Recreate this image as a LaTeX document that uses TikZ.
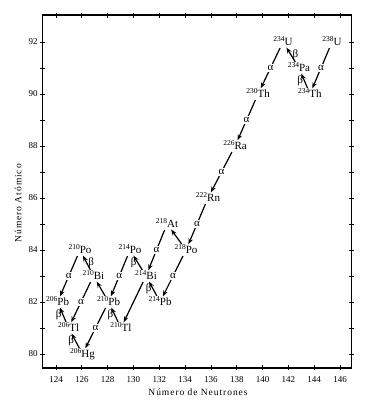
\documentclass[tikz,border=0pt]{standalone}
\usepackage{fontspec}
\setmainfont{Liberation Serif}
\usetikzlibrary{arrows.meta}
\newcommand{\iso}[2]{\raisebox{0.8ex}{\fontsize{7.5}{7.5}\selectfont #1}#2}
\begin{document}
\begin{tikzpicture}[x=12.91pt,y=26pt,
  nuc/.style={inner sep=1.2pt, text height=7.5pt, text depth=0pt, font=\fontsize{11}{11}\selectfont},
  decay/.style={line width=1.2pt, -{Stealth[length=6pt,width=4.5pt]}, shorten <=1pt, shorten >=0.5pt},
  alab/.style={fill=white, inner sep=1.3pt, font=\fontsize{11}{11}\selectfont},
  blab/.style={inner sep=1pt, font=\fontsize{11}{11}\selectfont},
  tickmark/.style={line width=0.9pt},
  ticklab/.style={font=\fontsize{9}{9}\selectfont, inner sep=0pt},
  axtitle/.style={font=\fontsize{9.5}{9.5}\selectfont\addfontfeature{LetterSpace=10}, inner sep=0pt}]
\useasboundingbox (119.662,78.077) rectangle (148.477,93.615);
\draw[line width=1.2pt] (122.97,79.46) rectangle (146.9,93.04);
% ticks
\foreach \n in {124,126,...,146} {
  \draw[tickmark] ([yshift=-2pt]\n,79.46) -- ([yshift=3pt]\n,79.46);
  \draw[tickmark] ([yshift=-3pt]\n,93.04) -- ([yshift=2pt]\n,93.04);
  \node[ticklab] (xl\n) at (\n,79.0) {\n};
}
\foreach \z in {80,...,92} {
  \draw[tickmark] ([xshift=-2.5pt]122.97,\z) -- ([xshift=2.5pt]122.97,\z);
  \draw[tickmark] ([xshift=-2.5pt]146.9,\z) -- ([xshift=2.5pt]146.9,\z);
}
\foreach \z in {80,82,...,92} {
  \node[ticklab, anchor=east] (yl\z) at ([xshift=-5pt]122.97,\z) {\z};
}
\node[axtitle] (xt) at (135,78.54) {Número de Neutrones};
\node[axtitle, rotate=90] (yt) at (121.06,85.8) {Número Atómico};
% nuclides
\node[nuc] (U238) at (145.38,92) {\iso{238}{U}};
\node[nuc] (Th234) at (143.67,90) {\iso{234}{Th}};
\node[nuc] (Pa234) at (142.82,91) {\iso{234}{Pa}};
\node[nuc] (U234) at (141.58,92) {\iso{234}{U}};
\node[nuc] (Th230) at (139.65,90) {\iso{230}{Th}};
\node[nuc] (Ra226) at (137.87,88) {\iso{226}{Ra}};
\node[nuc] (Rn222) at (135.77,86) {\iso{222}{Rn}};
\node[nuc] (At218) at (132.60,85) {\iso{218}{At}};
\node[nuc] (Po218) at (134.07,84) {\iso{218}{Po}};
\node[nuc] (Po214) at (129.73,84) {\iso{214}{Po}};
\node[nuc] (Bi214) at (130.97,83) {\iso{214}{Bi}};
\node[nuc] (Pb214) at (132.06,82) {\iso{214}{Pb}};
\node[nuc] (Tl210) at (129.03,81) {\iso{210}{Tl}};
\node[nuc] (Pb210) at (128.07,82) {\iso{210}{Pb}};
\node[nuc] (Bi210) at (126.90,83) {\iso{210}{Bi}};
\node[nuc] (Po210) at (125.86,84) {\iso{210}{Po}};
\node[nuc] (Pb206) at (124.12,82) {\iso{206}{Pb}};
\node[nuc] (Tl206) at (124.97,81) {\iso{206}{Tl}};
\node[nuc] (Hg206) at (126.05,80) {\iso{206}{Hg}};
% alpha decays
\draw[decay] (U238) -- node[alab] (a1) {α} (Th234);
\draw[decay] (U234) -- node[alab] (a2) {α} (Th230);
\draw[decay] (Th230) -- node[alab] (a3) {α} (Ra226);
\draw[decay] (Ra226) -- node[alab] (a4) {α} (Rn222);
\draw[decay] (Rn222) -- node[alab] (a5) {α} (Po218);
\draw[decay] (At218) -- node[alab] (a6) {α} (Bi214);
\draw[decay] (Po218) -- node[alab] (a7) {α} (Pb214);
\draw[decay] (Po214) -- node[alab] (a8) {α} (Pb210);
\draw[decay] (Bi214) -- (Tl210);
\draw[decay] (Bi210) -- node[alab] (a9) {α} (Tl206);
\draw[decay] (Po210) -- node[alab] (a10) {α} (Pb206);
\draw[decay] (Pb210) -- node[alab] (a11) {α} (Hg206);
% beta decays
\draw[decay] (Th234) -- node[blab, left] (b1) {β} (Pa234);
\draw[decay] (Pa234) -- node[blab, right] (b2) {β} (U234);
\draw[decay] (Po218) -- (At218);
\draw[decay] (Pb214) -- node[blab, left] (b3) {β} (Bi214);
\draw[decay] (Bi214) -- node[blab, left] (b4) {β} (Po214);
\draw[decay] (Pb210) -- (Bi210);
\draw[decay] (Bi210) -- node[blab, right] (b5) {β} (Po210);
\draw[decay] (Tl210) -- node[blab, left] (b6) {β} (Pb210);
\draw[decay] (Tl206) -- node[blab, left] (b7) {β} (Pb206);
\draw[decay] (Hg206) -- node[blab, left] (b8) {β} (Tl206);
\end{tikzpicture}
\end{document}
